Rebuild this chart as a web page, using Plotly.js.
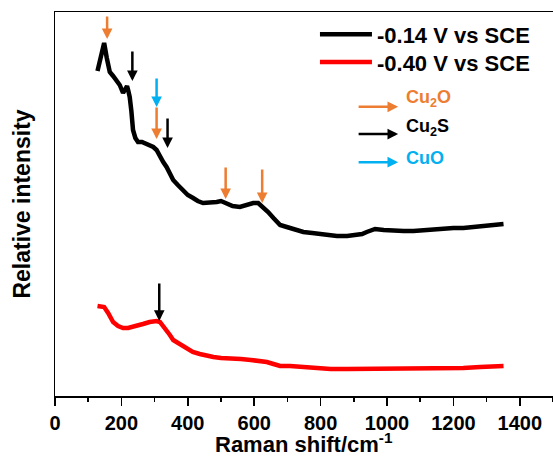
<!DOCTYPE html>
<html>
<head>
<meta charset="utf-8">
<script src="https://cdn.plot.ly/plotly-3.0.1.min.js"></script>
<style>html,body{margin:0;padding:0;background:#fff;}#chart{width:553px;height:457px;}</style>
</head>
<body>
<div id="chart"></div>
<script>
// Raman shift (cm^-1) and relative intensity (arbitrary units)
const shiftA = [128,140,148,156,165,175,185,195,205,212,217,221,225,230,235,242,250,262,276,286,296,306,316,326,336,346,356,370,386,400,416,430,446,466,487,500,517,535,557,577,597,612,627,642,658,668,678,698,720,748,775,799,825,849,880,909,925,939,952,964,990,1020,1050,1080,1110,1140,1170,1200,1230,1261,1290,1311,1330,1351];
const intensA = [325,343,353,338,324,320,316,311,303,308,310,305,299,285,266,258,254,254,252,251,249,246,239,234,229,222,216,211,206,201,198,195,193,193,194,195,193,190,189,191,193,193,189,184,178,174,171,169,167,164,163,162,161,160,160,161,162,164,166,167,166,165,165,165,166,167,167,168,168,169,169,170,171,172];
const shiftB = [128,140,148,160,175,190,205,220,235,250,265,285,306,316,326,336,346,356,375,396,415,436,456,477,500,527,560,590,617,638,658,678,708,740,778,830,879,930,980,1030,1080,1130,1181,1230,1281,1320,1351];
const intensB = [90,90,89,83,74,70,68,68,69,70,72,74,75,74,70,66,61,56,52,48,44,42,40,39,38,38,37,36,35,34,32,30,30,29,28,27,27,27,27,27,27,27,27,28,29,29,30];
const seriesNames = ['-0.14 V vs SCE', '-0.40 V vs SCE'];
const xTitle = 'Raman shift/cm<sup>-1</sup>';
const yTitle = 'Relative intensity';

// Peak markers: wavenumber, arrow tip and tail intensities, phase
const peakShift = [157, 233, 306, 306, 339, 514, 624, 314];
const peakTip   = [357, 315, 289, 257, 248, 197, 193, 75];
const peakTail  = [381, 346, 319, 290, 279, 230, 228, 114];
const peakPhase = ['Cu2O','Cu2S','CuO','Cu2O','Cu2S','Cu2O','Cu2O','Cu2S'];

// Phase key
const phaseNames = ['Cu2O','Cu2S','CuO'];
const phaseLabels = ['Cu<sub>2</sub>O','Cu<sub>2</sub>S','CuO'];

const phaseColor = {Cu2O:'#ED7D31', Cu2S:'#000000', CuO:'#00B0F0'};
const FONT = 'Liberation Sans, Arial, Helvetica, sans-serif';

const traces = [
  {x: shiftA, y: intensA, name: seriesNames[0], type:'scatter', mode:'lines', legend:'legend',
   line:{color:'#000000', width:4.5}},
  {x: shiftB, y: intensB, name: seriesNames[1], type:'scatter', mode:'lines', legend:'legend2',
   line:{color:'#FF0000', width:4.5}}
];

const annotations = [];
for (let i = 0; i < peakShift.length; i++) {
  annotations.push({
    x: peakShift[i], y: peakTip[i], ax: peakShift[i], ay: peakTail[i],
    xref:'x', yref:'y', axref:'x', ayref:'y', text:'', showarrow:true,
    arrowhead:2, arrowsize:0.85, arrowwidth:2.5, standoff:0,
    arrowcolor: phaseColor[peakPhase[i]]
  });
}
// key arrows and labels
const keyY = [0.753, 0.682, 0.609];
const keyTextY = [0.774, 0.699, 0.620];
for (let i = 0; i < phaseNames.length; i++) {
  annotations.push({
    x: 0.689, y: keyY[i], xref:'paper', yref:'paper', ax:-41, ay:0,
    text:'', showarrow:true, arrowhead:2, arrowsize:0.85, arrowwidth:2.5, standoff:0,
    arrowcolor: phaseColor[phaseNames[i]]
  });
  annotations.push({
    x: 0.700, y: keyTextY[i], xref:'paper', yref:'paper', xanchor:'left', yanchor:'middle',
    text: '<b>' + phaseLabels[i] + '</b>', showarrow:false,
    font:{family:FONT, size:18, color: phaseColor[phaseNames[i]]}
  });
}
// x axis title placed as an annotation below the tick labels
annotations.push({
  x: 0.5, y: -0.163, xref:'paper', yref:'paper', xanchor:'center', yanchor:'bottom',
  text: '<b>' + xTitle + '</b>', showarrow:false,
  font:{family:FONT, size:22, color:'#000000'}
});

const legendBase = {xanchor:'left', yanchor:'top', bgcolor:'rgba(0,0,0,0)',
  borderwidth:0, itemwidth:52, tracegroupgap:0,
  font:{family:FONT, size:22, color:'#000000', weight:'bold'}};

const layout = {
  width:553, height:457,
  margin:{l:55, r:0, t:12, b:61},
  paper_bgcolor:'#ffffff', plot_bgcolor:'#ffffff',
  showlegend:true,
  legend: Object.assign({x:0.522, y:0.996}, legendBase),
  legend2: Object.assign({x:0.522, y:0.924}, legendBase),
  xaxis:{range:[0,1500], showgrid:false, zeroline:false, showline:true, mirror:true,
    linecolor:'#000000', linewidth:1.5, ticks:'outside', ticklen:8, tickwidth:1.5, tickcolor:'#000000',
    dtick:200, tick0:0,
    minor:{dtick:100, ticks:'outside', ticklen:4, tickwidth:1.5, tickcolor:'#000000', showgrid:false},
    tickfont:{family:FONT, size:20, color:'#000000', weight:'bold'}},
  yaxis:{range:[0,384], showgrid:false, zeroline:false, showline:true, mirror:false,
    linecolor:'#000000', linewidth:1.5, ticks:'', showticklabels:false,
    title:{text:'<b>' + yTitle + '</b>', font:{family:FONT, size:23, color:'#000000'}, standoff:16}},
  annotations: annotations
};

Plotly.newPlot('chart', traces, layout, {displayModeBar:false, staticPlot:true});
</script>
</body>
</html>
